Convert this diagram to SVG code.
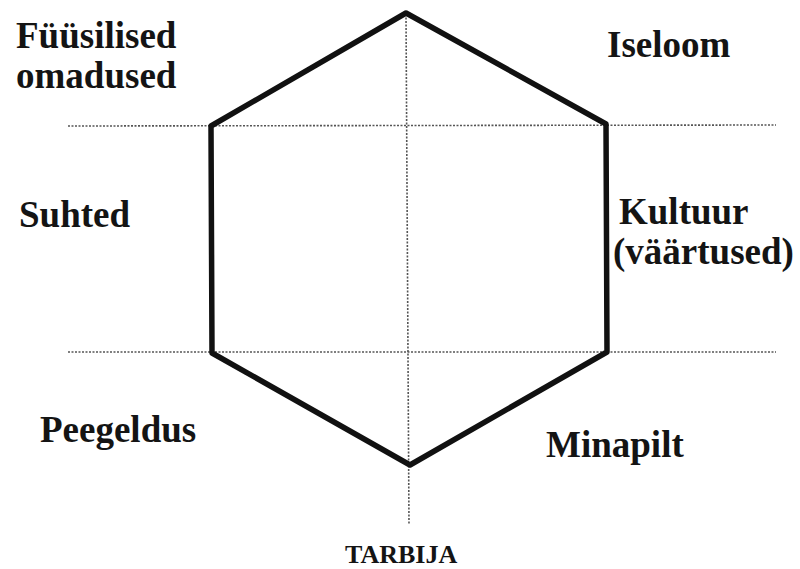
<svg xmlns="http://www.w3.org/2000/svg" width="800" height="569" viewBox="0 0 800 569">
  <style>
    .label { font-family: "Liberation Serif", "Times New Roman", serif; font-weight: bold; font-size: 37px; fill: #141414; }
    .small { font-size: 26px; }
    .axis { stroke: #555; stroke-width: 1.6; stroke-dasharray: 2 1.5; fill: none; }
    .hex { stroke: #111; stroke-width: 5.5; fill: none; stroke-linejoin: round; }
  </style>
  <rect width="800" height="569" fill="#fff"/>

  <!-- dotted guide axes -->
  <g id="connectors">
    <line class="axis" x1="68" y1="126" x2="776" y2="125"/>
    <line class="axis" x1="68" y1="352" x2="776" y2="352"/>
    <line class="axis" x1="406" y1="14" x2="409" y2="525"/>
  </g>

  <!-- hexagon outline -->
  <g id="hexagon">
    <polygon class="hex" points="406,13 606,124 607,352 410,465 212,353 211,126"/>
  </g>

  <g id="fyysilised">
    <text class="label" x="16" y="48">Füüsilised</text>
    <text class="label" x="16" y="88">omadused</text>
  </g>
  <g id="iseloom">
    <text class="label" x="607" y="57">Iseloom</text>
  </g>
  <g id="suhted">
    <text class="label" x="19" y="227">Suhted</text>
  </g>
  <g id="kultuur">
    <text class="label" x="619" y="224">Kultuur</text>
    <text class="label" x="613" y="264">(väärtused)</text>
  </g>
  <g id="peegeldus">
    <text class="label" x="40" y="442">Peegeldus</text>
  </g>
  <g id="minapilt">
    <text class="label" x="546" y="457">Minapilt</text>
  </g>
  <g id="tarbija">
    <text class="label small" x="345" y="563">TARBIJA</text>
  </g>
</svg>
